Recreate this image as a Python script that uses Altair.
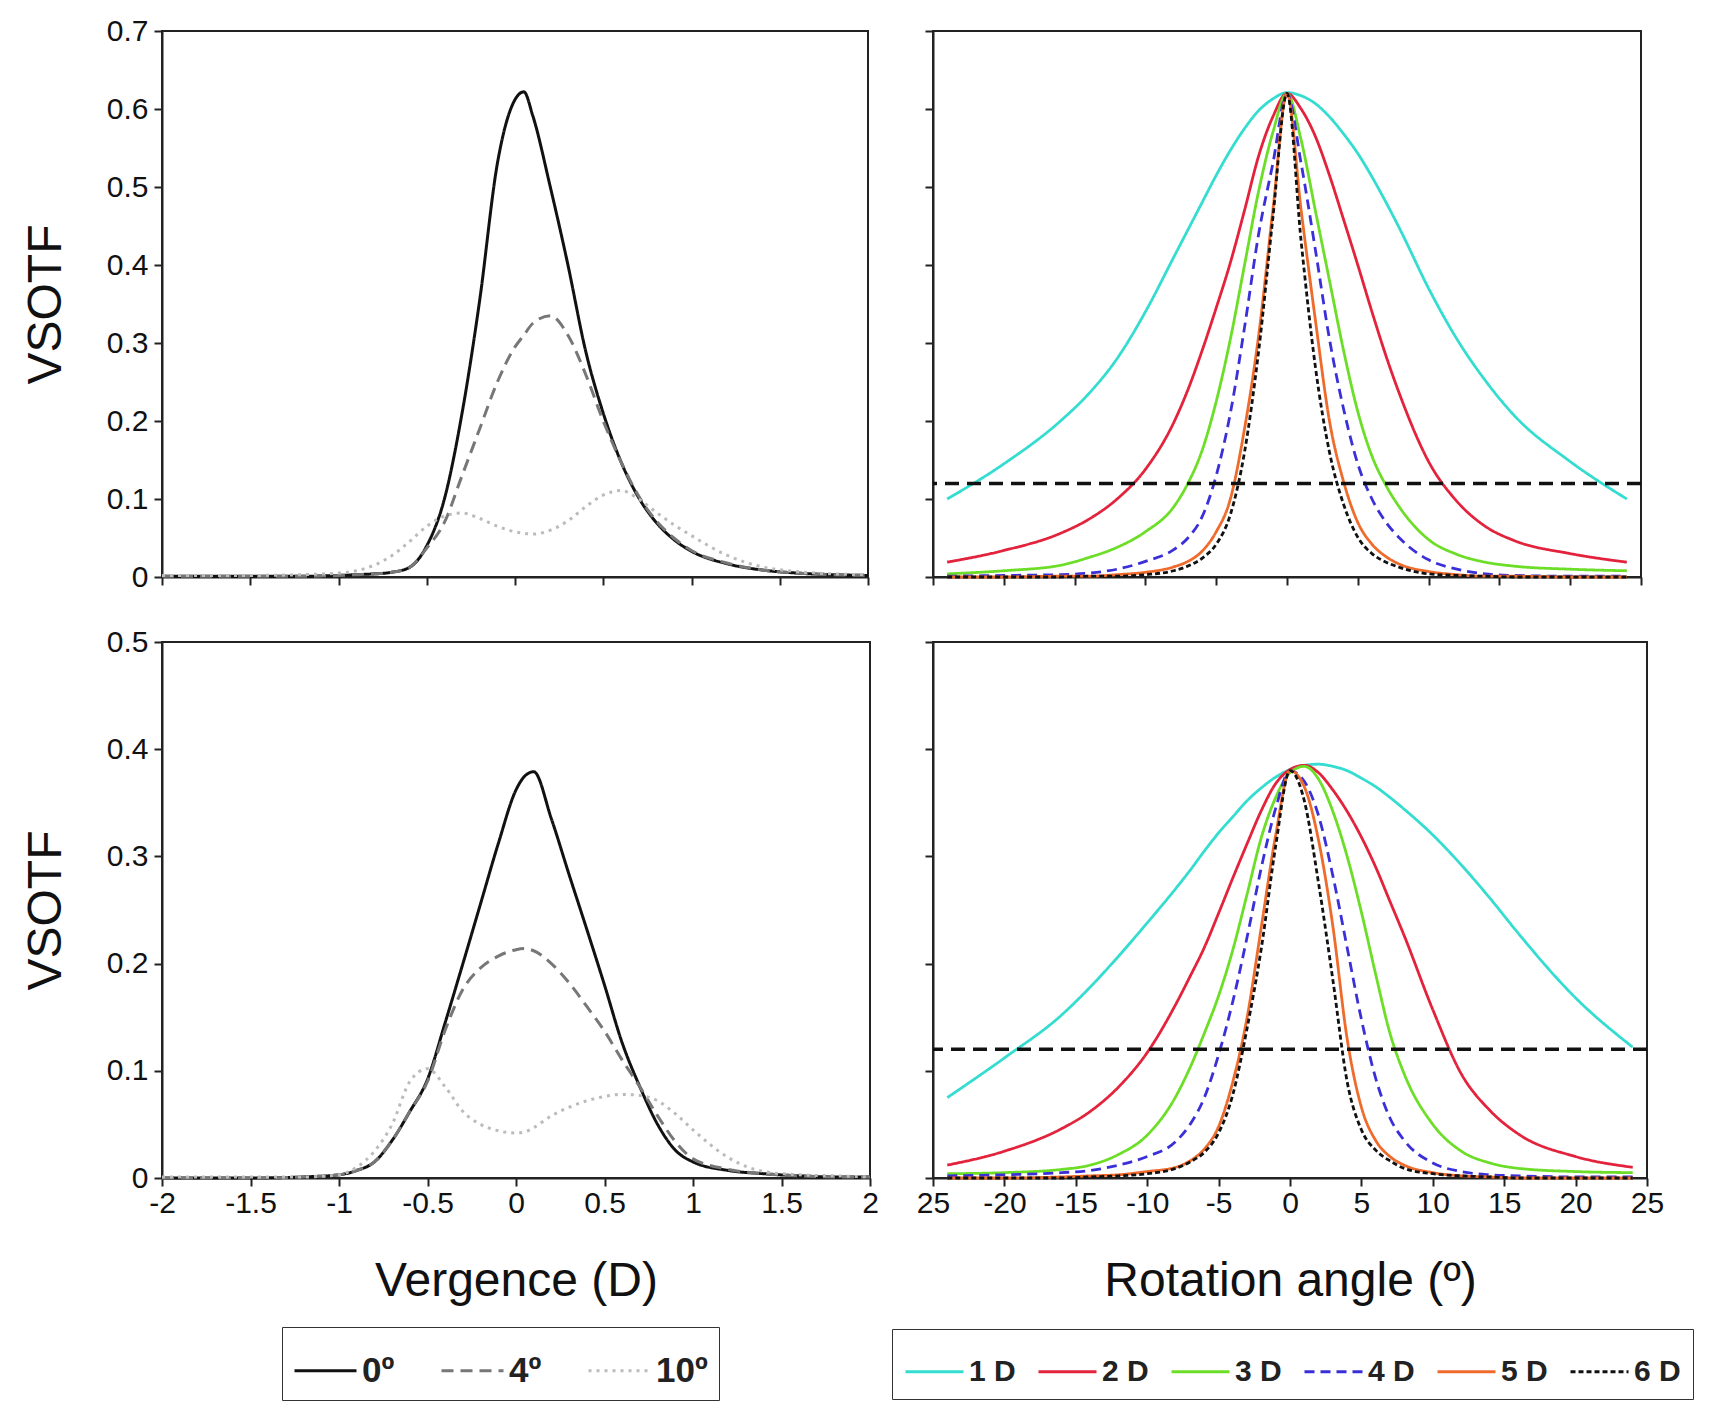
import altair as alt
import pandas as pd

# ---------------- Vergence panels (left) ----------------
verg_x = [-2.0, -1.5, -1.2, -1.0, -0.9, -0.8, -0.7, -0.6, -0.5, -0.4, -0.3, -0.2, -0.1, 0.0, 0.05,
          0.1, 0.2, 0.3, 0.4, 0.5, 0.6, 0.7, 0.8, 0.9, 1.0, 1.2, 1.4, 1.6, 1.8, 2.0]
verg_series = ["0º", "4º", "10º"]

top_0 = [0.001, 0.001, 0.001, 0.002, 0.003, 0.004, 0.006, 0.012, 0.04, 0.1, 0.21, 0.355, 0.53, 0.612, 0.622,
         0.592, 0.5, 0.4, 0.29, 0.21, 0.148, 0.102, 0.07, 0.048, 0.033, 0.017, 0.009, 0.005, 0.003, 0.002]
top_4 = [0.001, 0.001, 0.001, 0.002, 0.003, 0.004, 0.006, 0.012, 0.037, 0.07, 0.13, 0.19, 0.25, 0.295, 0.31,
         0.325, 0.335, 0.31, 0.26, 0.2, 0.148, 0.104, 0.072, 0.05, 0.034, 0.018, 0.009, 0.005, 0.003, 0.002]
top_10 = [0.002, 0.002, 0.003, 0.005, 0.008, 0.015, 0.027, 0.045, 0.065, 0.078, 0.082, 0.075, 0.065, 0.058, 0.056,
          0.055, 0.06, 0.072, 0.09, 0.105, 0.111, 0.1, 0.083, 0.067, 0.053, 0.028, 0.013, 0.007, 0.004, 0.003]

bot_0 = [0.0, 0.0, 0.001, 0.003, 0.007, 0.015, 0.035, 0.062, 0.092, 0.145, 0.2, 0.256, 0.312, 0.362, 0.375,
         0.379, 0.335, 0.283, 0.232, 0.18, 0.126, 0.085, 0.05, 0.026, 0.015, 0.007, 0.004, 0.002, 0.001, 0.001]
bot_4 = [0.0, 0.0, 0.001, 0.003, 0.007, 0.015, 0.035, 0.062, 0.09, 0.138, 0.176, 0.196, 0.207, 0.213, 0.214,
         0.212, 0.2, 0.182, 0.16, 0.137, 0.11, 0.085, 0.058, 0.034, 0.018, 0.008, 0.004, 0.002, 0.001, 0.001]
bot_10 = [0.001, 0.001, 0.001, 0.003, 0.01, 0.025, 0.05, 0.09, 0.102, 0.085, 0.062, 0.05, 0.044, 0.042, 0.043,
          0.047, 0.058, 0.066, 0.072, 0.076, 0.078, 0.077, 0.072, 0.06, 0.045, 0.019, 0.006, 0.003, 0.002, 0.001]

# ---------------- Rotation panels (right) ----------------
rot_x = [-24, -20, -16, -14, -12, -10, -8, -7, -6, -5, -4, -3, -2, -1, 0,
         1, 2, 3, 4, 5, 6, 7, 8, 10, 12, 14, 16, 20, 24]
rot_series = ["1 D", "2 D", "3 D", "4 D", "5 D", "6 D"]

tr_1 = [0.1, 0.145, 0.2, 0.235, 0.28, 0.34, 0.41, 0.445, 0.48, 0.515, 0.547, 0.575, 0.598, 0.613, 0.621,
        0.617, 0.607, 0.59, 0.568, 0.543, 0.513, 0.48, 0.445, 0.37, 0.305, 0.252, 0.208, 0.148, 0.1]
tr_2 = [0.019, 0.034, 0.056, 0.074, 0.1, 0.138, 0.198, 0.24, 0.29, 0.345, 0.403, 0.47, 0.54, 0.59, 0.62,
        0.6, 0.565, 0.515, 0.458, 0.4, 0.34, 0.283, 0.232, 0.148, 0.097, 0.065, 0.047, 0.03, 0.019]
tr_3 = [0.004, 0.008, 0.015, 0.025, 0.038, 0.058, 0.09, 0.12, 0.162, 0.225, 0.305, 0.4, 0.495, 0.57, 0.62,
        0.56, 0.47, 0.38, 0.29, 0.212, 0.155, 0.117, 0.088, 0.048, 0.029, 0.019, 0.014, 0.01, 0.008]
tr_4 = [0.001, 0.002, 0.003, 0.005, 0.01, 0.02, 0.035, 0.05, 0.077, 0.13, 0.21, 0.32, 0.44, 0.53, 0.62,
        0.53, 0.42, 0.305, 0.215, 0.145, 0.1, 0.07, 0.049, 0.022, 0.01, 0.004, 0.002, 0.001, 0.001]
tr_5 = [0.0, 0.0, 0.001, 0.001, 0.003, 0.006, 0.013, 0.02, 0.033, 0.058, 0.1, 0.19, 0.31, 0.47, 0.62,
        0.47, 0.33, 0.2, 0.122, 0.07, 0.042, 0.026, 0.016, 0.007, 0.003, 0.001, 0.001, 0.0, 0.0]
tr_6 = [0.0, 0.0, 0.0, 0.001, 0.001, 0.003, 0.008, 0.014, 0.024, 0.042, 0.08, 0.16, 0.29, 0.46, 0.62,
        0.43, 0.27, 0.16, 0.093, 0.051, 0.03, 0.019, 0.012, 0.004, 0.002, 0.001, 0.0, 0.0, 0.0]

br_1 = [0.075, 0.112, 0.152, 0.178, 0.207, 0.238, 0.27, 0.287, 0.305, 0.322, 0.337, 0.352, 0.364, 0.374, 0.381,
        0.385, 0.386, 0.384, 0.38, 0.373, 0.365, 0.355, 0.344, 0.32, 0.292, 0.261, 0.228, 0.168, 0.122]
br_2 = [0.012, 0.025, 0.046, 0.062, 0.085, 0.117, 0.162, 0.188, 0.215, 0.247, 0.28, 0.312, 0.343, 0.368, 0.381,
        0.385, 0.378, 0.362, 0.342, 0.318, 0.29, 0.258, 0.226, 0.157, 0.097, 0.063, 0.041, 0.02, 0.01]
br_3 = [0.004, 0.005, 0.008, 0.012, 0.022, 0.04, 0.076, 0.103, 0.135, 0.17, 0.213, 0.265, 0.318, 0.355, 0.378,
        0.384, 0.372, 0.342, 0.3, 0.248, 0.19, 0.135, 0.097, 0.05, 0.025, 0.014, 0.009, 0.006, 0.005]
br_4 = [0.002, 0.003, 0.005, 0.007, 0.012, 0.02, 0.034, 0.05, 0.075, 0.115, 0.165, 0.225, 0.29, 0.345, 0.38,
        0.37, 0.338, 0.282, 0.215, 0.148, 0.093, 0.056, 0.035, 0.014, 0.006, 0.003, 0.002, 0.001, 0.001]
br_5 = [0.0, 0.0, 0.001, 0.002, 0.003, 0.006, 0.01, 0.016, 0.027, 0.048, 0.09, 0.15, 0.235, 0.32, 0.38,
        0.365, 0.315, 0.235, 0.13, 0.066, 0.035, 0.02, 0.012, 0.005, 0.002, 0.001, 0.0, 0.0, 0.0]
br_6 = [0.0, 0.0, 0.0, 0.001, 0.002, 0.004, 0.009, 0.015, 0.024, 0.042, 0.078, 0.14, 0.215, 0.31, 0.38,
        0.352, 0.275, 0.185, 0.09, 0.045, 0.026, 0.016, 0.009, 0.004, 0.002, 0.001, 0.0, 0.0, 0.0]

threshold_top = [0.12]
threshold_bottom = [0.12]

verg_ticks = [-2, -1.5, -1, -0.5, 0, 0.5, 1, 1.5, 2]
rot_ticks = [-25, -20, -15, -10, -5, 0, 5, 10, 15, 20, 25]
y_ticks_top = [0, 0.1, 0.2, 0.3, 0.4, 0.5, 0.6, 0.7]
y_ticks_bottom = [0, 0.1, 0.2, 0.3, 0.4, 0.5]

verg_colors = ["#111111", "#777777", "#bbbbbb"]
verg_dashes = [[1, 0], [12, 7], [3, 5]]
rot_colors = ["#35ddd0", "#e3223c", "#6cde27", "#3b2fd8", "#ef6b2c", "#111111"]
rot_dashes = [[1, 0], [1, 0], [1, 0], [10, 6], [1, 0], [5, 3]]

AXIS_FONT = "Liberation Sans"
LEG_FONT = "Liberation Sans"


def long_df(xs, names, columns):
    rows = []
    for name, ys in zip(names, columns):
        for i, (xv, yv) in enumerate(zip(xs, ys)):
            rows.append({"x": xv, "y": yv, "series": name, "i": i})
    return pd.DataFrame(rows)


def verg_panel(cols, ymax, yticks, w, h, bottom, legend):
    df = long_df(verg_x, verg_series, cols)
    xaxis = alt.Axis(values=verg_ticks, labels=bottom, title="Vergence (D)" if bottom else None,
                     labelExpr="'' + datum.value", titlePadding=39, labelPadding=2)
    yaxis = alt.Axis(values=yticks, title="VSOTF", labelExpr="'' + datum.value",
                     labelPadding=6, titlePadding=36)
    leg = None
    if legend:
        leg = alt.Legend(orient="none", legendX=120, legendY=685, direction="horizontal", columns=3,
                         title=None, symbolType="stroke", symbolSize=3844, symbolStrokeWidth=3,
                         labelFont=LEG_FONT, labelFontSize=35, labelFontWeight="bold", labelColor="#222",
                         labelOffset=4, columnPadding=40, padding=11, strokeColor="#333",
                         fillColor="white", symbolOpacity=1)
    return alt.Chart(df).mark_line(strokeWidth=3, interpolate="monotone").encode(
        x=alt.X("x:Q", scale=alt.Scale(domain=[-2, 2], nice=False), axis=xaxis),
        y=alt.Y("y:Q", scale=alt.Scale(domain=[0, ymax], nice=False), axis=yaxis),
        color=alt.Color("series:N", scale=alt.Scale(domain=verg_series, range=verg_colors),
                        legend=leg, sort=verg_series),
        strokeDash=alt.StrokeDash("series:N", scale=alt.Scale(domain=verg_series, range=verg_dashes),
                                  legend=leg, sort=verg_series),
        order="i:Q",
    ).properties(width=w, height=h)


def rot_panel(cols, thr, ymax, yticks, w, h, bottom, legend):
    df = long_df(rot_x, rot_series, cols)
    xaxis = alt.Axis(values=rot_ticks, labels=bottom, title="Rotation angle (º)" if bottom else None,
                     labelExpr="datum.value == -25 ? '25' : '' + datum.value",
                     titlePadding=39, labelPadding=2)
    yaxis = alt.Axis(values=yticks, labels=False, title=None)
    leg = None
    if legend:
        leg = alt.Legend(orient="none", legendX=-41, legendY=687, direction="horizontal", columns=6,
                         title=None, symbolType="stroke", symbolSize=3364, symbolStrokeWidth=3,
                         labelFont=LEG_FONT, labelFontSize=30, labelFontWeight="bold", labelColor="#222",
                         labelOffset=4, columnPadding=16, padding=12, strokeColor="#333",
                         fillColor="white", symbolOpacity=1)
    lines = alt.Chart(df).mark_line(strokeWidth=2.8, interpolate="monotone").encode(
        x=alt.X("x:Q", scale=alt.Scale(domain=[-25, 25], nice=False), axis=xaxis),
        y=alt.Y("y:Q", scale=alt.Scale(domain=[0, ymax], nice=False), axis=yaxis),
        color=alt.Color("series:N", scale=alt.Scale(domain=rot_series, range=rot_colors),
                        legend=leg, sort=rot_series),
        strokeDash=alt.StrokeDash("series:N", scale=alt.Scale(domain=rot_series, range=rot_dashes),
                                  legend=leg, sort=rot_series),
        order="i:Q",
    )
    rule = alt.Chart(pd.DataFrame({"t": thr})).mark_rule(
        color="#111111", strokeDash=[14, 8], strokeWidth=3.5).encode(y="t:Q")
    return alt.layer(lines, rule).properties(width=w, height=h)


tl = verg_panel([top_0, top_4, top_10], 0.7, y_ticks_top, 706, 546, False, False)
bl = verg_panel([bot_0, bot_4, bot_10], 0.5, y_ticks_bottom, 708, 536, True, True)
tr = rot_panel([tr_1, tr_2, tr_3, tr_4, tr_5, tr_6], threshold_top, 0.7, y_ticks_top, 708, 546, False, False)
br = rot_panel([br_1, br_2, br_3, br_4, br_5, br_6], threshold_bottom, 0.5, y_ticks_bottom, 714, 536, True, True)

chart = alt.concat(
    tl, tr, bl, br, columns=2, spacing={"row": 65, "column": 63}, bounds="flush"
).resolve_scale(
    color="independent", strokeDash="independent", x="independent", y="independent"
).resolve_legend(
    color="independent", strokeDash="independent"
).properties(
    padding={"left": 13, "top": 7, "right": 0, "bottom": 0}
).configure_view(
    stroke="#222222", strokeWidth=2
).configure_axis(
    domainColor="#222222", domainWidth=2, tickColor="#222222", tickWidth=2, tickSize=8,
    labelFont=AXIS_FONT, labelFontSize=30, labelColor="#111111",
    titleFont=AXIS_FONT, titleFontSize=48, titleFontWeight="normal", titleColor="#111111",
    grid=False, labelFlush=False, labelOverlap=False
)

chart.save("out.html", embed_options={"renderer": "svg", "actions": False})
